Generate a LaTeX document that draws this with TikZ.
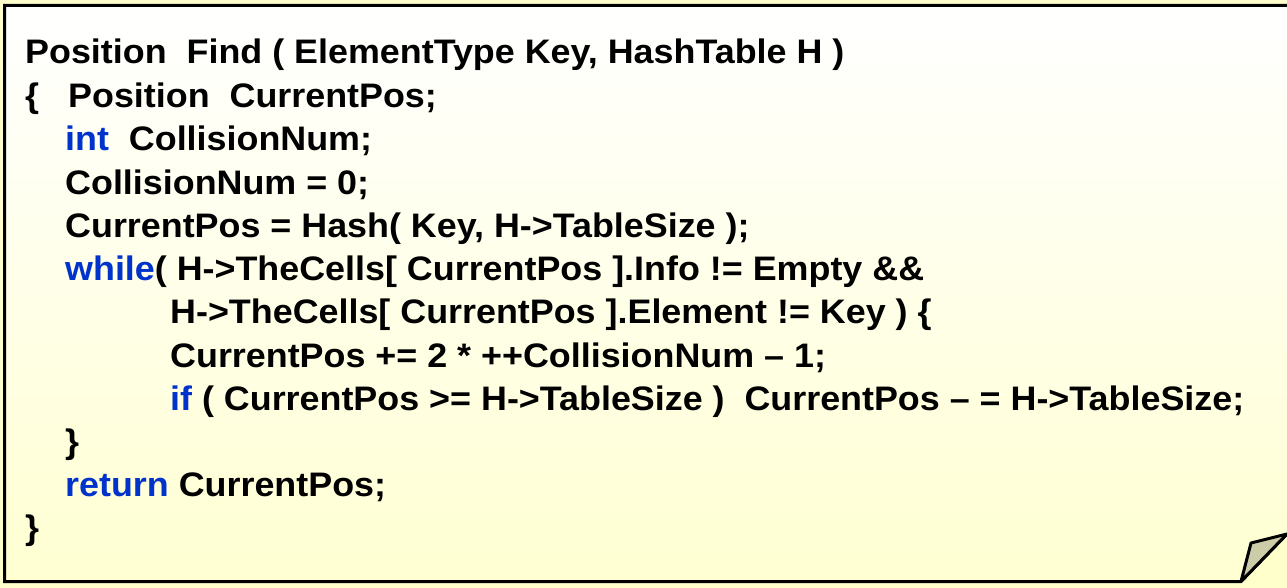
\documentclass[tikz,border=0pt]{standalone}
\usepackage{fontspec}
\setmainfont[FakeStretch=1.055]{Liberation Sans}
\definecolor{bgyellow}{HTML}{FFFFCC}
\definecolor{paleyellow}{HTML}{FFFFD2}
\definecolor{foldcol}{HTML}{CCCCA8}
\definecolor{kwblue}{HTML}{0033CC}
\begin{document}
\begin{tikzpicture}[x=1pt,y=-1pt,
  codeline/.style={anchor=base west,inner sep=0pt,font=\fontsize{34}{40}\selectfont\bfseries}]
\newcommand{\kwd}[1]{\textcolor{kwblue}{#1}}
\useasboundingbox (0,0) rectangle (1287,588);
\fill[bgyellow] (0,0) rectangle (1287,588);
\shade[top color=white,bottom color=paleyellow] (4.5,5.5) -- (1289,5.5) -- (1289,534) -- (1241,581.5) -- (4.5,581.5) -- cycle;
\draw[line width=3pt,line join=miter] (1289,5.5) -- (4.5,5.5) -- (4.5,581.5) -- (1241,581.5) -- (1287,534);
\draw[line width=3pt,line join=round,fill=foldcol] (1287,534) -- (1251,543) -- (1241,581.5) -- cycle;
\node[codeline] (l1) at (25,64) {Position\ \ Find ( ElementType Key, HashTable H )};
\node[codeline] (l2) at (25,108) {\{};
\node[codeline] (l2b) at (68,108) {Position\ \ CurrentPos;};
\node[codeline] (l3) at (65,151) {\kwd{int}\ \ CollisionNum;};
\node[codeline] (l4) at (65,194) {CollisionNum = 0;};
\node[codeline] (l5) at (65,237) {CurrentPos = Hash( Key, H->TableSize );};
\node[codeline] (l6) at (65,280) {\kwd{while}( H->TheCells[ CurrentPos ].Info != Empty \&\&};
\node[codeline] (l7) at (170,323) {H->TheCells[ CurrentPos ].Element != Key ) \{};
\node[codeline] (l8) at (170,367) {CurrentPos += 2 * ++CollisionNum – 1;};
\node[codeline] (l9) at (170,410) {\kwd{if} ( CurrentPos >= H->TableSize )\ \ CurrentPos – = H->TableSize;};
\node[codeline] (l10) at (65,453) {\}};
\node[codeline] (l11) at (65,496) {\kwd{return} CurrentPos;};
\node[codeline] (l12) at (25,539) {\}};
\end{tikzpicture}
\end{document}
